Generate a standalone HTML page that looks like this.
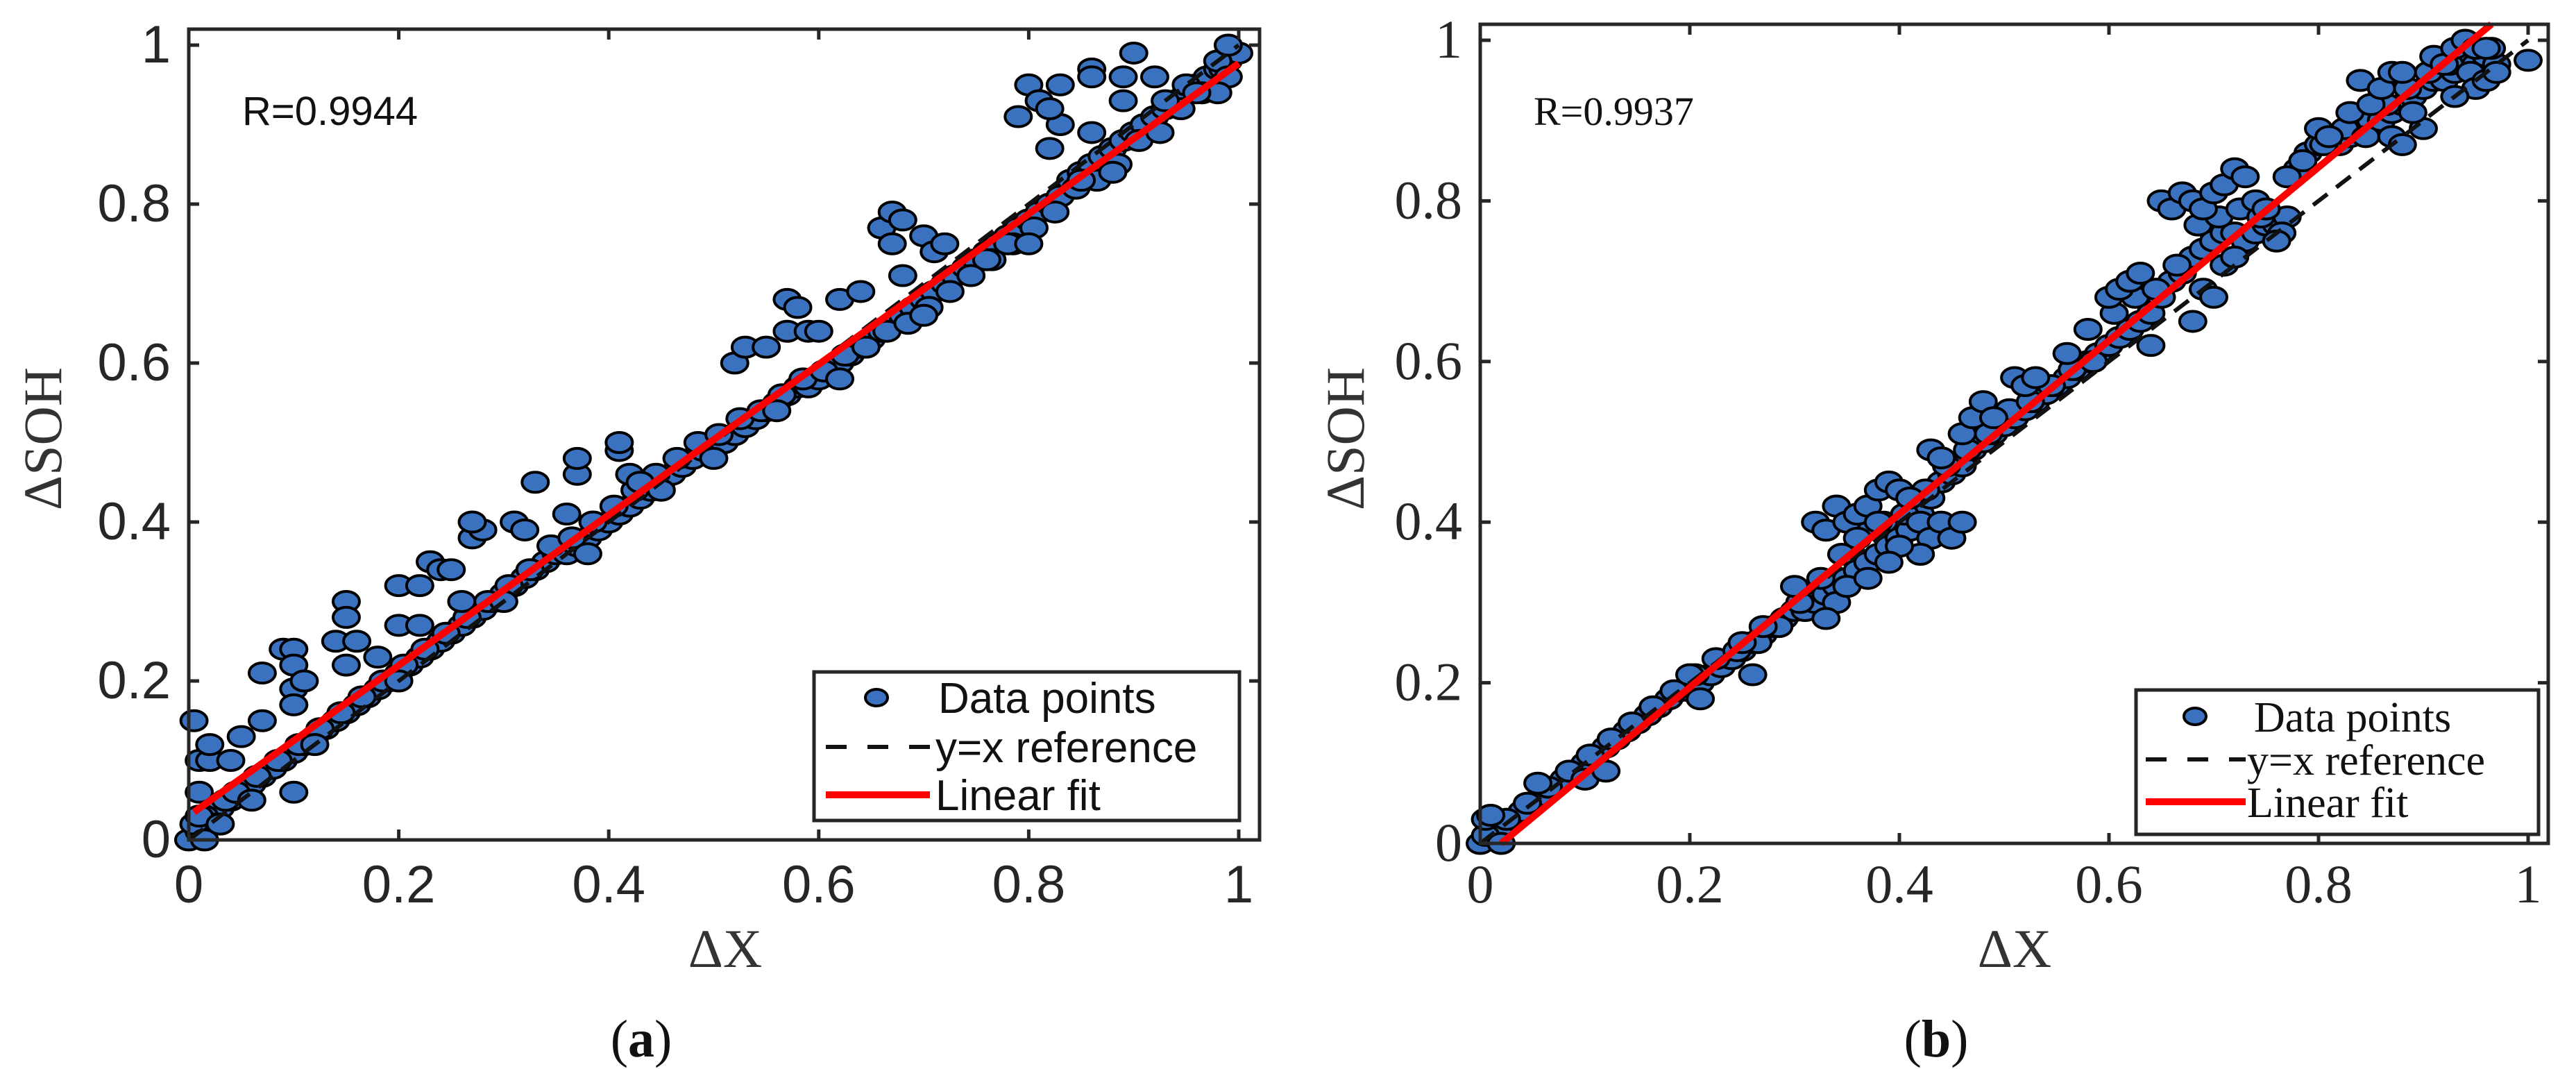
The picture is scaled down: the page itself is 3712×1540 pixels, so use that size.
<!DOCTYPE html>
<html><head><meta charset="utf-8"><style>
html,body{margin:0;padding:0;background:#fff;}
svg{display:block;}
</style></head><body>
<svg id="chart" width="3712" height="1540" viewBox="0 0 3712 1540" xmlns="http://www.w3.org/2000/svg"></svg>
<script>
// ---------- data ----------
const ticksA = ["0","0.2","0.4","0.6","0.8","1"];
const tickVals = [0,0.2,0.4,0.6,0.8,1];
const bandAx = [0,0.01,0.02,0.03,0.04,0.05,0.06,0.07,0.08,0.09,0.10,0.11,0.12,0.13,0.14,0.15,0.16,0.17,0.18,0.19,0.20,0.21,0.22,0.23,0.24,0.25,0.26,0.27,0.28,0.29,0.30,0.31,0.32,0.33,0.34,0.35,0.36,0.37,0.38,0.39,0.40,0.41,0.42,0.43,0.44,0.45,0.46,0.47,0.48,0.49,0.50,0.51,0.52,0.53,0.54,0.55,0.56,0.57,0.58,0.59,0.60,0.61,0.62,0.63,0.64,0.65,0.66,0.67,0.68,0.69,0.70,0.71,0.72,0.73,0.74,0.75,0.76,0.77,0.78,0.79,0.80,0.81,0.82,0.83,0.84,0.85,0.86,0.87,0.88,0.89,0.90,0.91,0.92,0.93,0.94,0.95,0.96,0.97,0.98,0.99,1.00];
const bandAy = [0.00,0.01,0.03,0.04,0.05,0.06,0.07,0.08,0.09,0.10,0.11,0.12,0.13,0.14,0.15,0.16,0.17,0.18,0.19,0.20,0.21,0.22,0.23,0.24,0.25,0.26,0.27,0.28,0.29,0.30,0.31,0.32,0.33,0.34,0.35,0.36,0.36,0.37,0.38,0.39,0.40,0.41,0.42,0.43,0.44,0.45,0.46,0.47,0.48,0.49,0.49,0.50,0.51,0.52,0.53,0.54,0.55,0.56,0.57,0.57,0.58,0.59,0.60,0.61,0.62,0.63,0.64,0.65,0.66,0.67,0.68,0.69,0.70,0.71,0.72,0.73,0.74,0.75,0.76,0.77,0.78,0.79,0.80,0.81,0.83,0.84,0.85,0.86,0.87,0.88,0.89,0.90,0.91,0.92,0.93,0.94,0.95,0.96,0.97,0.98,0.99];
const bandA2x = [0.005,0.015,0.025,0.035,0.045,0.065,0.085,0.105,0.125,0.145,0.165,0.185,0.205,0.225,0.245,0.265,0.285,0.305,0.325,0.345,0.365,0.385,0.405,0.425,0.445,0.465,0.485,0.505,0.525,0.545,0.565,0.585,0.605,0.625,0.645,0.665,0.685,0.705,0.725,0.745,0.765,0.785,0.805,0.825,0.845,0.865,0.885,0.905,0.925,0.945,0.965,0.985];
const bandA2y = [0.02,0.03,0.02,0.05,0.06,0.08,0.10,0.12,0.14,0.16,0.18,0.20,0.22,0.24,0.26,0.28,0.30,0.32,0.34,0.37,0.38,0.40,0.42,0.44,0.46,0.48,0.50,0.51,0.53,0.54,0.56,0.58,0.59,0.61,0.62,0.64,0.65,0.67,0.69,0.71,0.73,0.75,0.77,0.79,0.82,0.83,0.85,0.88,0.89,0.92,0.94,0.97];
const outAx = [0.005,0.01,0.02,0.02,0.01,0.04,0.05,0.07,0.07,0.09,0.10,0.10,0.10,0.10,0.11,0.10,0.14,0.15,0.15,0.16,0.15,0.18,0.20,0.20,0.22,0.22,0.23,0.24,0.25,0.26,0.27,0.28,0.27,0.31,0.32,0.33,0.37,0.37,0.36,0.41,0.41,0.42,0.43,0.52,0.53,0.55,0.57,0.57,0.58,0.59,0.60,0.62,0.64,0.66,0.67,0.68,0.67,0.68,0.70,0.71,0.72,0.79,0.80,0.81,0.82,0.83,0.83,0.82,0.86,0.86,0.86,0.90,0.89,0.89,0.92,0.95,0.98,0.99,0.99,0.98,0.005,0.01,0.015,0.03,0.06,0.12,0.2,0.3,0.38,0.45,0.5,0.56,0.62,0.7,0.76,0.78,0.8,0.85,0.88,0.93,0.96];
const outAy = [0.15,0.10,0.10,0.12,0.06,0.10,0.13,0.21,0.15,0.24,0.24,0.22,0.19,0.17,0.20,0.06,0.25,0.30,0.28,0.25,0.22,0.23,0.32,0.27,0.32,0.27,0.35,0.34,0.34,0.30,0.38,0.39,0.40,0.40,0.39,0.45,0.46,0.48,0.41,0.49,0.50,0.46,0.45,0.60,0.62,0.62,0.64,0.68,0.67,0.64,0.64,0.68,0.69,0.77,0.79,0.78,0.75,0.71,0.76,0.74,0.75,0.91,0.95,0.93,0.87,0.90,0.95,0.92,0.97,0.96,0.89,0.99,0.96,0.93,0.96,0.95,0.98,1.00,0.96,0.94,0.02,0.03,0.00,0.02,0.05,0.12,0.20,0.30,0.36,0.44,0.48,0.54,0.58,0.66,0.73,0.75,0.75,0.83,0.84,0.93,0.94];
const bandBx = [0,0.01,0.02,0.03,0.04,0.05,0.06,0.07,0.08,0.09,0.10,0.11,0.12,0.13,0.14,0.15,0.16,0.17,0.18,0.19,0.20,0.21,0.22,0.23,0.24,0.25,0.26,0.27,0.28,0.29,0.30,0.31,0.32,0.33,0.34,0.35,0.36,0.37,0.38,0.39,0.40,0.41,0.42,0.43,0.44,0.45,0.46,0.47,0.48,0.49,0.50,0.51,0.52,0.53,0.54,0.55,0.56,0.57,0.58,0.59,0.60,0.61,0.62,0.63,0.64,0.65,0.66,0.67,0.68,0.69,0.70,0.71,0.72,0.73,0.74,0.75,0.76,0.77,0.78,0.79,0.80,0.81,0.82,0.83,0.84,0.85,0.86,0.87,0.88,0.89,0.90,0.91,0.92,0.93,0.94,0.95,0.96,0.97];
const bandBy = [0,0.01,0.02,0.03,0.04,0.05,0.06,0.07,0.08,0.09,0.10,0.11,0.12,0.13,0.14,0.15,0.16,0.17,0.18,0.19,0.19,0.20,0.21,0.22,0.23,0.24,0.25,0.26,0.27,0.28,0.29,0.29,0.30,0.31,0.32,0.33,0.34,0.35,0.36,0.37,0.38,0.39,0.41,0.43,0.45,0.46,0.47,0.49,0.50,0.51,0.52,0.53,0.54,0.55,0.56,0.57,0.58,0.59,0.60,0.61,0.62,0.63,0.64,0.65,0.66,0.68,0.70,0.71,0.73,0.74,0.75,0.76,0.76,0.75,0.76,0.77,0.77,0.78,0.84,0.86,0.87,0.88,0.87,0.88,0.89,0.90,0.90,0.91,0.92,0.93,0.94,0.95,0.95,0.96,0.97,0.97,0.98,0.97];
const bandB2x = [0.005,0.025,0.045,0.065,0.085,0.105,0.125,0.145,0.165,0.185,0.205,0.225,0.245,0.265,0.285,0.305,0.325,0.345,0.365,0.385,0.405,0.425,0.445,0.465,0.485,0.505,0.525,0.545,0.565,0.585,0.605,0.625,0.645,0.665,0.685,0.705,0.725,0.745,0.765,0.785,0.805,0.825,0.845,0.865,0.885,0.905,0.925,0.945,0.965];
const bandB2y = [0.01,0.03,0.05,0.07,0.09,0.11,0.13,0.15,0.17,0.19,0.21,0.23,0.24,0.25,0.27,0.30,0.33,0.36,0.39,0.40,0.41,0.44,0.47,0.49,0.51,0.54,0.55,0.57,0.59,0.60,0.66,0.68,0.69,0.72,0.77,0.78,0.79,0.78,0.76,0.85,0.87,0.89,0.88,0.92,0.94,0.96,0.97,0.96,0.99];
const outBx = [0.005,0.01,0.02,0.055,0.1,0.12,0.2,0.21,0.26,0.25,0.27,0.3,0.32,0.33,0.34,0.35,0.36,0.37,0.38,0.39,0.40,0.41,0.42,0.43,0.44,0.45,0.46,0.42,0.40,0.38,0.36,0.34,0.33,0.35,0.37,0.39,0.43,0.44,0.46,0.47,0.48,0.49,0.51,0.52,0.53,0.56,0.58,0.6,0.61,0.62,0.63,0.64,0.65,0.66,0.67,0.68,0.69,0.70,0.71,0.72,0.73,0.74,0.75,0.77,0.76,0.68,0.69,0.70,0.71,0.72,0.8,0.81,0.84,0.83,0.85,0.86,0.87,0.88,0.87,0.88,0.9,0.89,0.91,0.92,0.93,0.94,0.95,0.96,0.95,0.96,0.97,0.93,1.0];
const outBy = [0.03,0.035,0.0,0.075,0.08,0.09,0.21,0.18,0.21,0.25,0.27,0.32,0.40,0.39,0.42,0.40,0.41,0.42,0.44,0.45,0.44,0.43,0.40,0.38,0.40,0.38,0.40,0.36,0.37,0.40,0.38,0.30,0.28,0.32,0.33,0.35,0.49,0.48,0.51,0.53,0.55,0.53,0.58,0.57,0.58,0.61,0.64,0.68,0.69,0.70,0.71,0.62,0.80,0.79,0.81,0.80,0.79,0.81,0.82,0.84,0.83,0.80,0.79,0.83,0.75,0.65,0.69,0.68,0.72,0.73,0.89,0.88,0.95,0.91,0.92,0.94,0.96,0.96,0.88,0.87,0.89,0.91,0.98,0.97,0.99,1.0,0.99,0.99,0.94,0.95,0.96,0.93,0.975];
const fitA = [0.005,0.035,1.0,0.977];
const fitB = [0.02,0.0,0.965,1.02];
const rA = "R=0.9944", rB = "R=0.9937";

const NS="http://www.w3.org/2000/svg";
const svg=document.getElementById('chart');
function mk(tag,attrs,parent){const e=document.createElementNS(NS,tag);for(const k in attrs)e.setAttribute(k,attrs[k]);(parent||svg).appendChild(e);return e;}

function panel(cfg){
  const g=mk('g',{});
  
  
  const sx=v=>cfg.x0+(cfg.x1-cfg.x0)*v;
  const sy=v=>cfg.y0+(cfg.y1-cfg.y0)*v;
  const font=cfg.font;
  const pts=mk('g',{},g);
  
  
  const allX=cfg.bx.concat(cfg.b2x,cfg.ox), allY=cfg.by.concat(cfg.b2y,cfg.oy);
  for(let i=0;i<allX.length;i++){
    const p=mk('ellipse',{cx:sx(allX[i]),cy:sy(allY[i]),rx:19,ry:14.5,fill:'#3a72bf',stroke:'#000','stroke-width':4},pts);
    
    
  }
  const ref=mk('line',{x1:sx(0),y1:sy(0),x2:sx(1),y2:sy(1),stroke:'#111','stroke-width':6,'stroke-dasharray':'26 16'},g);
  
  
  const fit=mk('line',{x1:sx(cfg.fit[0]),y1:sy(cfg.fit[1]),x2:sx(cfg.fit[2]),y2:sy(cfg.fit[3]),stroke:'#ff0000','stroke-width':10},g);
  
  
  const box=mk('rect',{x:cfg.bl,y:cfg.bt,width:cfg.br-cfg.bl,height:sy(0)-cfg.bt,fill:'none',stroke:'#262626','stroke-width':5},g);
  
  
  for(let i=0;i<tickVals.length;i++){
    const v=tickVals[i];
    mk('line',{x1:sx(v),y1:sy(0),x2:sx(v),y2:sy(0)-15,stroke:'#262626','stroke-width':5},g);
    mk('line',{x1:sx(v),y1:cfg.bt,x2:sx(v),y2:cfg.bt+15,stroke:'#262626','stroke-width':5},g);
    mk('line',{x1:cfg.bl,y1:sy(v),x2:cfg.bl+15,y2:sy(v),stroke:'#262626','stroke-width':5},g);
    mk('line',{x1:cfg.br,y1:sy(v),x2:cfg.br-15,y2:sy(v),stroke:'#262626','stroke-width':5},g);
    const xt=mk('text',{x:sx(v),y:1300,'text-anchor':'middle','font-family':font,'font-size':cfg.tfs,fill:'#262626'},g);
    xt.textContent=ticksA[i];
    
    
    const yt=mk('text',{x:cfg.bl-26,y:sy(v)+25,'text-anchor':'end','font-family':font,'font-size':cfg.tfs,fill:'#262626'},g);
    yt.textContent=ticksA[i];
    
    
  }
  const xl=mk('text',{x:cfg.xlx,y:1393,'text-anchor':'middle','font-family':'"Liberation Serif",serif','font-size':78,fill:'#333'},g);
  xl.textContent='ΔX';
  
  
  const yl=mk('text',{x:0,y:0,'text-anchor':'middle','font-family':'"Liberation Serif",serif','font-size':78,fill:'#333',transform:`translate(${cfg.ylx},632) rotate(-90)`},g);
  yl.textContent='ΔSOH';
  
  
  const rt=mk('text',{x:cfg.rx,y:180,'font-family':font,'font-size':58,fill:'#111'},g);
  rt.textContent=cfg.r;
  
  
  const pl=mk('text',{x:cfg.plx,y:1522,'text-anchor':'middle','font-family':'"Liberation Serif",serif','font-size':76,fill:'#111'},g);
  pl.innerHTML='(<tspan font-weight="bold">'+cfg.pl+'</tspan>)';
  
  
  const L=cfg.leg;
  const lg=mk('g',{},g);
  
  
  mk('rect',{x:L.x,y:L.y,width:L.w,height:L.h,fill:'#fff',stroke:'#262626','stroke-width':5},lg);
  const lm=mk('ellipse',{cx:L.mx,cy:L.r1,rx:16,ry:12,fill:'#3a72bf',stroke:'#000','stroke-width':4},lg);
  
  
  mk('line',{x1:L.l0,y1:L.r2,x2:L.l1,y2:L.r2,stroke:'#111','stroke-width':6,'stroke-dasharray':'30 30'},lg);
  mk('line',{x1:L.l0,y1:L.r3,x2:L.l1,y2:L.r3,stroke:'#ff0000','stroke-width':10},lg);
  const labels=['Data points','y=x reference','Linear fit'];
  const rows=[L.r1,L.r2,L.r3];
  for(let i=0;i<3;i++){
    const t=mk('text',{x:i==0?L.tx0:L.tx,y:rows[i]+22,'font-family':font,'font-size':L.fs,fill:'#111'},lg);
    t.textContent=labels[i];
    
    
  }
}

panel({name:'panel-a',x0:272,x1:1785,y0:1210,y1:65,bl:272,br:1815,bt:42,
  bx:bandAx,by:bandAy,b2x:bandA2x,b2y:bandA2y,ox:outAx,oy:outAy,fit:fitA,font:'"Liberation Sans",sans-serif',tfs:76,
  xlx:1045,ylx:88,rx:349,r:rA,plx:924,pl:'a',
  leg:{x:1173,y:968,w:613,h:214,mx:1263,r1:1005,r2:1076,r3:1145,l0:1190,l1:1340,tx0:1352,tx:1348,fs:62}});
panel({name:'panel-b',x0:2133,x1:3643,y0:1215,y1:58,bl:2133,br:3672,bt:35,
  bx:bandBx,by:bandBy,b2x:bandB2x,b2y:bandB2y,ox:outBx,oy:outBy,fit:fitB,font:'"Liberation Serif",serif',tfs:78,
  xlx:2903,ylx:1965,rx:2210,r:rB,plx:2790,pl:'b',
  leg:{x:3078,y:994,w:580,h:208,mx:3163,r1:1032,r2:1094,r3:1155,l0:3092,l1:3236,tx0:3248,tx:3238,fs:62}});
</script>
</body></html>
